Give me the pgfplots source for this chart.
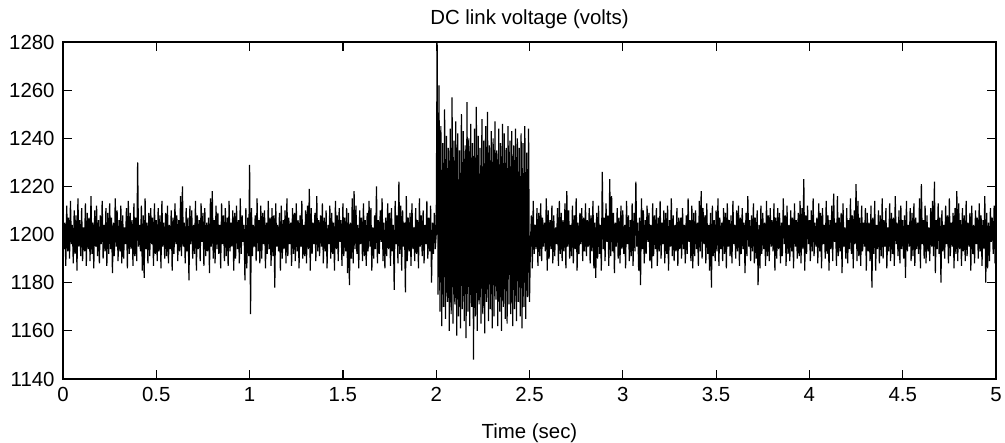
\documentclass[border=0pt]{standalone}
\usepackage{fontspec}
\setmainfont{Liberation Sans}
\usepackage{pgfplots}
\pgfplotsset{compat=1.18}
\begin{document}
\begin{tikzpicture}[font=\fontsize{10.2}{12}\selectfont]
\begin{axis}[
  scale only axis, width=466.5pt, height=168.5pt,
  xmin=0, xmax=5, ymin=1140, ymax=1280,
  xtick={0,0.5,1,1.5,2,2.5,3,3.5,4,4.5,5},
  ytick={1140,1160,1180,1200,1220,1240,1260,1280},
  scaled ticks=false,
  /pgf/number format/1000 sep={},
  /pgf/number format/assume math mode=true,
  tick align=inside, major tick length=4.5pt,
  axis line style={line width=0.9pt},
  every tick/.style={black, line width=0.6pt},
  xticklabel style={anchor=base, yshift=-11.3pt},
  yticklabel style={anchor=east, inner sep=0pt, xshift=-4pt},
  every axis title shift=0pt,
  title={DC link voltage (volts)},
  title style={at={(axis description cs:0.5,1)}, anchor=base, yshift=8.5pt},
  xlabel={Time (sec)},
  xlabel style={at={(axis description cs:0.5,0)}, anchor=base, yshift=-30pt},
]
\addplot[black, line width=0.6pt, mark=none, line join=miter, miter limit=2] coordinates {
(0.00,1209)(0.005,1194)(0.01,1205)(0.015,1187)(0.02,1212)(0.025,1193)(0.03,1207)(0.035,1190)(0.04,1214)(0.045,1196)(0.05,1204)(0.055,1188)(0.06,1210)(0.065,1192)(0.07,1208)(0.075,1185)(0.08,1215)(0.085,1195)(0.09,1206)(0.095,1191)
(0.10,1211)(0.105,1189)(0.11,1203)(0.115,1193)(0.12,1213)(0.125,1187)(0.13,1209)(0.135,1194)(0.14,1207)(0.145,1189)(0.15,1216)(0.155,1192)(0.16,1205)(0.165,1186)(0.17,1210)(0.175,1195)(0.18,1212)(0.185,1191)(0.19,1206)(0.195,1188)
(0.20,1208)(0.205,1196)(0.21,1214)(0.215,1190)(0.22,1204)(0.225,1193)(0.23,1211)(0.235,1187)(0.24,1209)(0.245,1192)(0.25,1213)(0.255,1194)(0.26,1207)(0.265,1184)(0.27,1205)(0.275,1191)(0.28,1215)(0.285,1195)(0.29,1210)(0.295,1189)
(0.30,1206)(0.305,1193)(0.31,1212)(0.315,1188)(0.32,1208)(0.325,1190)(0.33,1203)(0.335,1196)(0.34,1211)(0.345,1186)(0.35,1214)(0.355,1192)(0.36,1209)(0.365,1194)(0.37,1206)(0.375,1187)(0.38,1213)(0.385,1191)(0.39,1207)(0.395,1189)
(0.40,1230)(0.405,1195)(0.41,1204)(0.415,1193)(0.42,1212)(0.425,1185)(0.43,1208)(0.435,1182)(0.44,1215)(0.445,1194)(0.45,1205)(0.455,1188)(0.46,1209)(0.465,1191)(0.47,1211)(0.475,1196)(0.48,1207)(0.485,1187)(0.49,1213)(0.495,1192)
(0.50,1206)(0.505,1189)(0.51,1211)(0.515,1193)(0.52,1208)(0.525,1186)(0.53,1214)(0.535,1195)(0.54,1205)(0.545,1190)(0.55,1209)(0.555,1191)(0.56,1212)(0.565,1188)(0.57,1204)(0.575,1194)(0.58,1210)(0.585,1185)(0.59,1207)(0.595,1192)
(0.60,1213)(0.605,1196)(0.61,1208)(0.615,1189)(0.62,1206)(0.625,1193)(0.63,1216)(0.635,1191)(0.64,1220)(0.645,1195)(0.65,1205)(0.655,1188)(0.66,1211)(0.665,1193)(0.67,1207)(0.675,1181)(0.68,1212)(0.685,1196)(0.69,1210)(0.695,1190)
(0.70,1204)(0.705,1192)(0.71,1214)(0.715,1185)(0.72,1208)(0.725,1194)(0.73,1206)(0.735,1189)(0.74,1213)(0.745,1197)(0.75,1209)(0.755,1187)(0.76,1211)(0.765,1191)(0.77,1205)(0.775,1193)(0.78,1207)(0.785,1184)(0.79,1215)(0.795,1195)
(0.80,1218)(0.805,1190)(0.81,1206)(0.815,1188)(0.82,1212)(0.825,1194)(0.83,1209)(0.835,1192)(0.84,1204)(0.845,1186)(0.85,1213)(0.855,1196)(0.86,1208)(0.865,1189)(0.87,1211)(0.875,1191)(0.88,1207)(0.885,1187)(0.89,1214)(0.895,1193)
(0.90,1205)(0.905,1195)(0.91,1210)(0.915,1185)(0.92,1209)(0.925,1190)(0.93,1212)(0.935,1194)(0.94,1206)(0.945,1188)(0.95,1215)(0.955,1192)(0.96,1208)(0.965,1197)(0.97,1204)(0.975,1181)(0.98,1211)(0.985,1186)(0.99,1207)(0.995,1191)
(1.00,1229)(1.005,1167)(1.01,1211)(1.015,1191)(1.02,1204)(1.025,1195)(1.03,1208)(1.035,1189)(1.04,1215)(1.045,1193)(1.05,1206)(1.055,1188)(1.06,1212)(1.065,1190)(1.07,1209)(1.075,1196)(1.08,1210)(1.085,1186)(1.09,1205)(1.095,1192)
(1.10,1214)(1.105,1194)(1.11,1207)(1.115,1187)(1.12,1211)(1.125,1191)(1.13,1208)(1.135,1178)(1.14,1213)(1.145,1195)(1.15,1204)(1.155,1193)(1.16,1209)(1.165,1185)(1.17,1212)(1.175,1190)(1.18,1206)(1.185,1194)(1.19,1210)(1.195,1188)
(1.20,1215)(1.205,1191)(1.21,1207)(1.215,1196)(1.22,1205)(1.225,1187)(1.23,1211)(1.235,1192)(1.24,1209)(1.245,1189)(1.25,1213)(1.255,1193)(1.26,1206)(1.265,1186)(1.27,1208)(1.275,1195)(1.28,1214)(1.285,1190)(1.29,1204)(1.295,1191)
(1.30,1210)(1.305,1188)(1.31,1212)(1.315,1194)(1.32,1219)(1.325,1185)(1.33,1211)(1.335,1192)(1.34,1205)(1.345,1196)(1.35,1209)(1.355,1189)(1.36,1216)(1.365,1193)(1.37,1206)(1.375,1191)(1.38,1208)(1.385,1195)(1.39,1213)(1.395,1188)
(1.40,1207)(1.405,1193)(1.41,1210)(1.415,1186)(1.42,1204)(1.425,1196)(1.43,1212)(1.435,1190)(1.44,1209)(1.445,1192)(1.45,1205)(1.455,1185)(1.46,1214)(1.465,1194)(1.47,1208)(1.475,1189)(1.48,1211)(1.485,1197)(1.49,1206)(1.495,1187)
(1.50,1213)(1.505,1191)(1.51,1207)(1.515,1193)(1.52,1211)(1.525,1184)(1.53,1209)(1.535,1179)(1.54,1205)(1.545,1190)(1.55,1215)(1.555,1188)(1.56,1218)(1.565,1194)(1.57,1212)(1.575,1192)(1.58,1204)(1.585,1186)(1.59,1210)(1.595,1196)
(1.60,1207)(1.605,1189)(1.61,1213)(1.615,1191)(1.62,1206)(1.625,1187)(1.63,1209)(1.635,1193)(1.64,1214)(1.645,1195)(1.65,1211)(1.655,1185)(1.66,1203)(1.665,1190)(1.67,1208)(1.675,1194)(1.68,1220)(1.685,1188)(1.69,1206)(1.695,1192)
(1.70,1210)(1.705,1197)(1.71,1215)(1.715,1189)(1.72,1205)(1.725,1186)(1.73,1207)(1.735,1191)(1.74,1213)(1.745,1194)(1.75,1209)(1.755,1187)(1.76,1211)(1.765,1193)(1.77,1204)(1.775,1177)(1.78,1214)(1.785,1196)(1.79,1208)(1.795,1188)
(1.80,1222)(1.805,1192)(1.81,1212)(1.815,1185)(1.82,1210)(1.825,1195)(1.83,1205)(1.835,1176)(1.84,1216)(1.845,1189)(1.85,1207)(1.855,1193)(1.86,1209)(1.865,1187)(1.87,1213)(1.875,1194)(1.88,1203)(1.885,1189)(1.89,1211)(1.895,1192)
(1.90,1206)(1.905,1186)(1.91,1215)(1.915,1195)(1.92,1208)(1.925,1191)(1.93,1210)(1.935,1188)(1.94,1204)(1.945,1196)(1.95,1214)(1.955,1190)(1.96,1207)(1.965,1193)(1.97,1212)(1.975,1180)(1.98,1205)(1.985,1192)(1.99,1209)(1.995,1194)
(2.000,1200)(2.005,1280)(2.010,1175)(2.015,1262)(2.020,1168)(2.025,1245)(2.030,1162)(2.035,1238)(2.040,1170)(2.045,1252)
(2.050,1165)(2.055,1241)(2.060,1172)(2.065,1236)(2.070,1160)(2.075,1244)(2.080,1167)(2.085,1257)(2.090,1163)(2.095,1239)
(2.100,1171)(2.105,1247)(2.110,1158)(2.115,1242)(2.120,1166)(2.125,1235)(2.130,1161)(2.135,1250)(2.140,1169)(2.145,1243)
(2.150,1164)(2.155,1237)(2.160,1157)(2.165,1255)(2.170,1168)(2.175,1240)(2.180,1162)(2.185,1246)(2.190,1170)(2.195,1238)
(2.200,1148)(2.205,1244)(2.210,1166)(2.215,1253)(2.220,1160)(2.225,1241)(2.230,1171)(2.235,1236)(2.240,1163)(2.245,1248)
(2.250,1167)(2.255,1239)(2.260,1159)(2.265,1245)(2.270,1172)(2.275,1251)(2.280,1164)(2.285,1237)(2.290,1169)(2.295,1243)
(2.300,1161)(2.305,1240)(2.310,1166)(2.315,1247)(2.320,1173)(2.325,1235)(2.330,1162)(2.335,1244)(2.340,1168)(2.345,1238)
(2.350,1160)(2.355,1246)(2.360,1170)(2.365,1242)(2.370,1165)(2.375,1236)(2.380,1163)(2.385,1245)(2.390,1171)(2.395,1239)
(2.400,1167)(2.405,1243)(2.410,1162)(2.415,1237)(2.420,1169)(2.425,1244)(2.430,1164)(2.435,1240)(2.440,1172)(2.445,1236)
(2.450,1166)(2.455,1242)(2.460,1161)(2.465,1238)(2.470,1170)(2.475,1245)(2.480,1165)(2.485,1234)(2.490,1174)(2.495,1244)
(2.500,1172)(2.505,1196)
(2.51,1208)(2.515,1186)(2.52,1214)(2.525,1192)(2.53,1204)(2.535,1194)(2.54,1211)(2.545,1187)(2.55,1209)(2.555,1191)(2.56,1213)(2.565,1189)(2.57,1207)(2.575,1195)(2.58,1205)(2.585,1193)(2.59,1215)(2.595,1185)
(2.60,1210)(2.605,1190)(2.61,1206)(2.615,1194)(2.62,1212)(2.625,1188)(2.63,1208)(2.635,1191)(2.64,1203)(2.645,1196)(2.65,1211)(2.655,1187)(2.66,1214)(2.665,1192)(2.67,1209)(2.675,1189)(2.68,1206)(2.685,1193)(2.69,1213)(2.695,1186)
(2.70,1218)(2.705,1195)(2.71,1210)(2.715,1190)(2.72,1204)(2.725,1191)(2.73,1212)(2.735,1188)(2.74,1208)(2.745,1194)(2.75,1215)(2.755,1185)(2.76,1205)(2.765,1192)(2.77,1209)(2.775,1196)(2.78,1211)(2.785,1189)(2.79,1207)(2.795,1193)
(2.80,1213)(2.805,1191)(2.81,1206)(2.815,1195)(2.82,1211)(2.825,1188)(2.83,1208)(2.835,1193)(2.84,1214)(2.845,1186)(2.85,1205)(2.855,1182)(2.86,1209)(2.865,1190)(2.87,1212)(2.875,1192)(2.88,1204)(2.885,1185)(2.89,1226)(2.895,1194)
(2.90,1207)(2.905,1189)(2.91,1213)(2.915,1197)(2.92,1208)(2.925,1187)(2.93,1223)(2.935,1191)(2.94,1216)(2.945,1193)(2.95,1209)(2.955,1184)(2.96,1205)(2.965,1195)(2.97,1211)(2.975,1190)(2.98,1207)(2.985,1188)(2.99,1212)(2.995,1194)
(3.00,1210)(3.005,1192)(3.01,1204)(3.015,1186)(3.02,1214)(3.025,1196)(3.03,1208)(3.035,1189)(3.04,1206)(3.045,1191)(3.05,1213)(3.055,1187)(3.06,1209)(3.065,1193)(3.07,1222)(3.075,1195)(3.08,1205)(3.085,1185)(3.09,1207)(3.095,1179)
(3.10,1215)(3.105,1194)(3.11,1210)(3.115,1188)(3.12,1206)(3.125,1192)(3.13,1212)(3.135,1197)(3.14,1209)(3.145,1189)(3.15,1204)(3.155,1186)(3.16,1213)(3.165,1191)(3.17,1208)(3.175,1194)(3.18,1211)(3.185,1187)(3.19,1207)(3.195,1193)
(3.20,1214)(3.205,1190)(3.21,1205)(3.215,1196)(3.22,1210)(3.225,1188)(3.23,1209)(3.235,1192)(3.24,1212)(3.245,1185)(3.25,1206)(3.255,1195)(3.26,1215)(3.265,1191)(3.27,1208)(3.275,1189)(3.28,1204)(3.285,1193)(3.29,1211)(3.295,1187)
(3.30,1207)(3.305,1194)(3.31,1207)(3.315,1190)(3.32,1211)(3.325,1194)(3.33,1204)(3.335,1188)(3.34,1208)(3.345,1192)(3.35,1215)(3.355,1197)(3.36,1206)(3.365,1189)(3.37,1212)(3.375,1186)(3.38,1209)(3.385,1191)(3.39,1210)(3.395,1194)
(3.40,1205)(3.405,1187)(3.41,1214)(3.415,1193)(3.42,1218)(3.425,1190)(3.43,1211)(3.435,1196)(3.44,1208)(3.445,1188)(3.45,1213)(3.455,1192)(3.46,1204)(3.465,1185)(3.47,1209)(3.475,1178)(3.48,1212)(3.485,1191)(3.49,1206)(3.495,1189)
(3.50,1210)(3.505,1193)(3.51,1215)(3.515,1187)(3.52,1207)(3.525,1194)(3.53,1205)(3.535,1189)(3.54,1211)(3.545,1192)(3.55,1209)(3.555,1186)(3.56,1213)(3.565,1195)(3.57,1206)(3.575,1191)(3.58,1208)(3.585,1188)(3.59,1214)(3.595,1196)
(3.60,1204)(3.605,1190)(3.61,1210)(3.615,1193)(3.62,1212)(3.625,1187)(3.63,1207)(3.635,1192)(3.64,1211)(3.645,1194)(3.65,1205)(3.655,1184)(3.66,1209)(3.665,1191)(3.67,1216)(3.675,1195)(3.68,1206)(3.685,1189)(3.69,1208)(3.695,1193)
(3.70,1213)(3.705,1188)(3.71,1207)(3.715,1190)(3.72,1210)(3.725,1179)(3.73,1204)(3.735,1186)(3.74,1212)(3.745,1192)(3.75,1209)(3.755,1194)(3.76,1205)(3.765,1187)(3.77,1214)(3.775,1191)(3.78,1208)(3.785,1189)(3.79,1211)(3.795,1195)
(3.80,1206)(3.805,1193)(3.81,1213)(3.815,1185)(3.82,1207)(3.825,1190)(3.83,1211)(3.835,1194)(3.84,1209)(3.845,1188)(3.85,1205)(3.855,1191)(3.86,1215)(3.865,1196)(3.87,1208)(3.875,1187)(3.88,1212)(3.885,1192)(3.89,1204)(3.895,1189)
(3.90,1210)(3.905,1193)(3.91,1207)(3.915,1186)(3.92,1213)(3.925,1195)(3.93,1206)(3.935,1190)(3.94,1209)(3.945,1191)(3.95,1214)(3.955,1188)(3.96,1211)(3.965,1194)(3.97,1223)(3.975,1185)(3.98,1208)(3.985,1192)(3.99,1212)(3.995,1196)
(4.00,1206)(4.005,1189)(4.01,1210)(4.015,1193)(4.02,1215)(4.025,1191)(4.03,1205)(4.035,1195)(4.04,1207)(4.045,1188)(4.05,1213)(4.055,1193)(4.06,1209)(4.065,1186)(4.07,1211)(4.075,1196)(4.08,1204)(4.085,1190)(4.09,1214)(4.095,1192)
(4.10,1208)(4.105,1185)(4.11,1206)(4.115,1194)(4.12,1212)(4.125,1189)(4.13,1217)(4.135,1197)(4.14,1205)(4.145,1187)(4.15,1216)(4.155,1191)(4.16,1207)(4.165,1193)(4.17,1209)(4.175,1184)(4.18,1213)(4.185,1195)(4.19,1203)(4.195,1190)
(4.20,1211)(4.205,1188)(4.21,1206)(4.215,1194)(4.22,1215)(4.225,1192)(4.23,1208)(4.235,1186)(4.24,1210)(4.245,1196)(4.25,1221)(4.255,1189)(4.26,1214)(4.265,1191)(4.27,1207)(4.275,1187)(4.28,1212)(4.285,1193)(4.29,1205)(4.295,1195)
(4.30,1211)(4.305,1185)(4.31,1209)(4.315,1193)(4.32,1205)(4.325,1189)(4.33,1212)(4.335,1178)(4.34,1207)(4.345,1192)(4.35,1214)(4.355,1185)(4.36,1204)(4.365,1194)(4.37,1210)(4.375,1188)(4.38,1208)(4.385,1191)(4.39,1215)(4.395,1190)
(4.40,1206)(4.405,1195)(4.41,1211)(4.415,1186)(4.42,1203)(4.425,1193)(4.43,1213)(4.435,1189)(4.44,1209)(4.445,1192)(4.45,1207)(4.455,1187)(4.46,1216)(4.465,1196)(4.47,1205)(4.475,1191)(4.48,1210)(4.485,1188)(4.49,1212)(4.495,1194)
(4.50,1206)(4.505,1190)(4.51,1208)(4.515,1182)(4.52,1214)(4.525,1193)(4.53,1204)(4.535,1195)(4.54,1211)(4.545,1189)(4.55,1209)(4.555,1191)(4.56,1213)(4.565,1187)(4.57,1207)(4.575,1194)(4.58,1205)(4.585,1192)(4.59,1215)(4.595,1186)
(4.60,1221)(4.605,1196)(4.61,1206)(4.615,1190)(4.62,1212)(4.625,1188)(4.63,1208)(4.635,1193)(4.64,1203)(4.645,1189)(4.65,1211)(4.655,1195)(4.66,1214)(4.665,1191)(4.67,1222)(4.675,1184)(4.68,1206)(4.685,1194)(4.69,1213)(4.695,1192)
(4.70,1207)(4.705,1180)(4.71,1210)(4.715,1193)(4.72,1204)(4.725,1190)(4.73,1212)(4.735,1196)(4.74,1208)(4.745,1188)(4.75,1215)(4.755,1191)(4.76,1205)(4.765,1195)(4.77,1209)(4.775,1186)(4.78,1211)(4.785,1192)(4.79,1218)(4.795,1189)
(4.80,1213)(4.805,1194)(4.81,1206)(4.815,1187)(4.82,1211)(4.825,1193)(4.83,1208)(4.835,1189)(4.84,1214)(4.845,1191)(4.85,1205)(4.855,1195)(4.86,1209)(4.865,1185)(4.87,1212)(4.875,1192)(4.88,1204)(4.885,1188)(4.89,1210)(4.895,1196)
(4.90,1207)(4.905,1190)(4.91,1213)(4.915,1193)(4.92,1208)(4.925,1187)(4.93,1206)(4.935,1194)(4.94,1216)(4.945,1180)(4.95,1209)(4.955,1186)(4.96,1205)(4.965,1189)(4.97,1211)(4.975,1197)(4.98,1207)(4.985,1192)(4.99,1212)(4.995,1188)(5.00,1210)
};
\coordinate (bl) at (rel axis cs:0,0);
\coordinate (tr) at (rel axis cs:1,1);
\end{axis}
\pgfresetboundingbox
\path ([shift={(-31.5pt,-32pt)}]bl) rectangle ([shift={(4.5pt,21pt)}]tr);
\end{tikzpicture}
\end{document}
